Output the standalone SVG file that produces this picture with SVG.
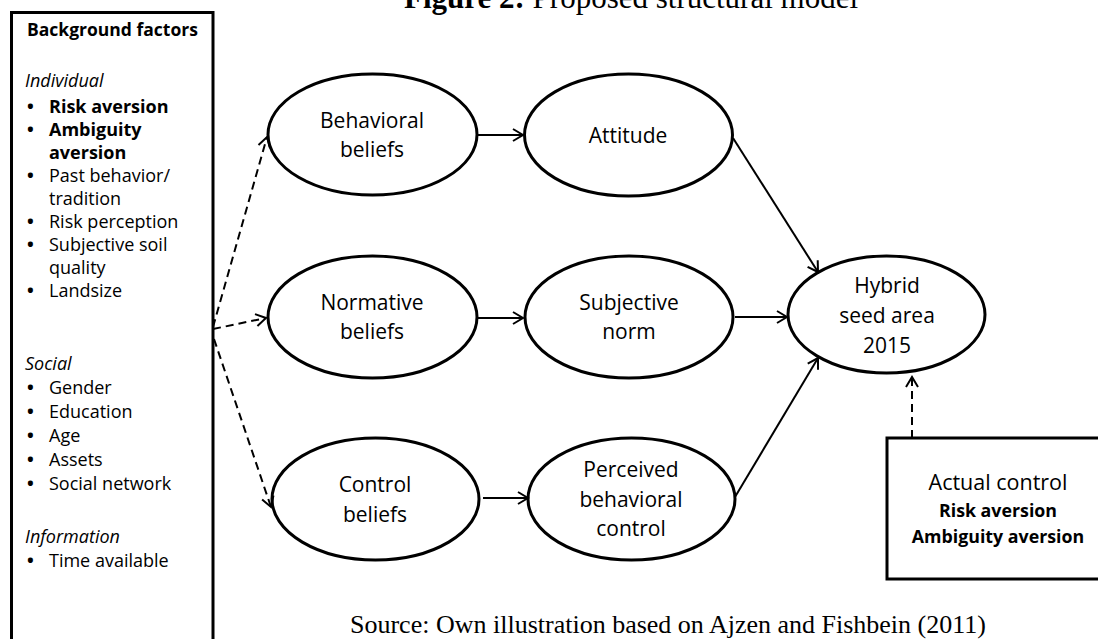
<svg xmlns="http://www.w3.org/2000/svg" width="1098" height="639" viewBox="0 0 1098 639">
<style>
.node{fill:#fff;stroke:#000;stroke-width:3}
.t{font-family:"Open Sans","Liberation Sans",sans-serif;fill:#000}
.e{font-size:21px;text-anchor:middle}
.l{font-size:18px}
.lb{font-size:17.5px;font-weight:bold}
.i{font-style:italic}
.b{font-weight:bold}
.bu{font-weight:bold}
.conn{fill:none;stroke:#000;stroke-width:2}
.dash{stroke-dasharray:8 5}
.serif{font-family:"Liberation Serif","Times New Roman",serif;fill:#000}
</style>
<defs>
<marker id="arr" markerUnits="userSpaceOnUse" markerWidth="14" markerHeight="14" refX="11" refY="7" orient="auto" overflow="visible">
<path d="M1,1 L11,7 L1,13" fill="none" stroke="#000" stroke-width="2"/>
</marker>
</defs>
<rect width="1098" height="639" fill="#fff"/>
<text class="serif" x="404" y="8" font-size="31"><tspan font-weight="bold">Figure 2:</tspan> Proposed structural model</text>

<g id="background-factors">
<rect class="node" x="11.5" y="12.5" width="201.5" height="640"/>
<text class="t lb" x="27" y="36">Background  factors</text>
<text class="t l i" x="25" y="87">Individual</text>
<g class="t l">
<text x="27" y="113" class="bu">•</text><text x="49" y="113" class="b">Risk aversion</text>
<text x="27" y="136" class="bu">•</text><text x="49" y="136" class="b">Ambiguity</text>
<text x="49" y="159" class="b">aversion</text>
<text x="27" y="182" class="bu">•</text><text x="49" y="182">Past behavior/</text>
<text x="49" y="205">tradition</text>
<text x="27" y="228" class="bu">•</text><text x="49" y="228">Risk perception</text>
<text x="27" y="251" class="bu">•</text><text x="49" y="251">Subjective soil</text>
<text x="49" y="274">quality</text>
<text x="27" y="297" class="bu">•</text><text x="49" y="297">Landsize</text>
</g>
<text class="t l i" x="25" y="370">Social</text>
<g class="t l">
<text x="27" y="394" class="bu">•</text><text x="49" y="394">Gender</text>
<text x="27" y="418" class="bu">•</text><text x="49" y="418">Education</text>
<text x="27" y="442" class="bu">•</text><text x="49" y="442">Age</text>
<text x="27" y="466" class="bu">•</text><text x="49" y="466">Assets</text>
<text x="27" y="490" class="bu">•</text><text x="49" y="490">Social network</text>
</g>
<text class="t l i" x="25" y="543">Information</text>
<g class="t l">
<text x="27" y="567" class="bu">•</text><text x="49" y="567">Time available</text>
</g>
</g>

<g id="behavioral-beliefs">
<ellipse class="node" cx="372.5" cy="134.5" rx="104.5" ry="60.5"/>
<text class="t e" x="372" y="128">Behavioral</text>
<text class="t e" x="372" y="157">beliefs</text>
</g>
<g id="attitude">
<ellipse class="node" cx="628.5" cy="135" rx="104" ry="61"/>
<text class="t e" x="628" y="143">Attitude</text>
</g>
<g id="normative-beliefs">
<ellipse class="node" cx="372.5" cy="317" rx="104.5" ry="61"/>
<text class="t e" x="372" y="310">Normative</text>
<text class="t e" x="372" y="339">beliefs</text>
</g>
<g id="subjective-norm">
<ellipse class="node" cx="629" cy="317" rx="104" ry="61"/>
<text class="t e" x="629" y="310">Subjective</text>
<text class="t e" x="629" y="339">norm</text>
</g>
<g id="control-beliefs">
<ellipse class="node" cx="375.5" cy="499" rx="103.5" ry="61"/>
<text class="t e" x="375" y="492">Control</text>
<text class="t e" x="375" y="522">beliefs</text>
</g>
<g id="perceived-behavioral-control">
<ellipse class="node" cx="631.5" cy="499" rx="103.5" ry="61"/>
<text class="t e" x="631" y="477">Perceived</text>
<text class="t e" x="631" y="507">behavioral</text>
<text class="t e" x="631" y="536">control</text>
</g>
<g id="hybrid-seed-area">
<ellipse class="node" cx="886.5" cy="314.5" rx="98.5" ry="58.5"/>
<text class="t e" x="887" y="293">Hybrid</text>
<text class="t e" x="887" y="323">seed area</text>
<text class="t e" x="887" y="353">2015</text>
</g>
<g id="actual-control">
<rect class="node" x="887" y="438" width="220" height="141"/>
<text class="t" x="998" y="490" font-size="21.5" text-anchor="middle">Actual control</text>
<text class="t b" x="998" y="517" font-size="17.8" text-anchor="middle">Risk aversion</text>
<text class="t b" x="998" y="543" font-size="17.8" text-anchor="middle">Ambiguity aversion</text>
</g>

<g id="connectors">
<line class="conn" x1="477" y1="135" x2="523" y2="135" marker-end="url(#arr)"/>
<line class="conn" x1="477" y1="318" x2="523" y2="318" marker-end="url(#arr)"/>
<line class="conn" x1="483" y1="498" x2="528" y2="498" marker-end="url(#arr)"/>
<line class="conn" x1="733" y1="138" x2="818" y2="272" marker-end="url(#arr)"/>
<line class="conn" x1="735" y1="317" x2="787" y2="317" marker-end="url(#arr)"/>
<line class="conn" x1="735" y1="497" x2="818" y2="358" marker-end="url(#arr)"/>
<line class="conn dash" x1="912" y1="438" x2="912" y2="377" marker-end="url(#arr)"/>
<line class="conn dash" x1="213" y1="327" x2="267" y2="137" marker-end="url(#arr)"/>
<line class="conn dash" x1="213" y1="329" x2="266" y2="318" marker-end="url(#arr)"/>
<line class="conn dash" x1="214" y1="339" x2="271" y2="507" marker-end="url(#arr)"/>
</g>

<text class="serif" x="350" y="633" font-size="26">Source: Own illustration based on Ajzen and Fishbein (2011)</text>
</svg>
